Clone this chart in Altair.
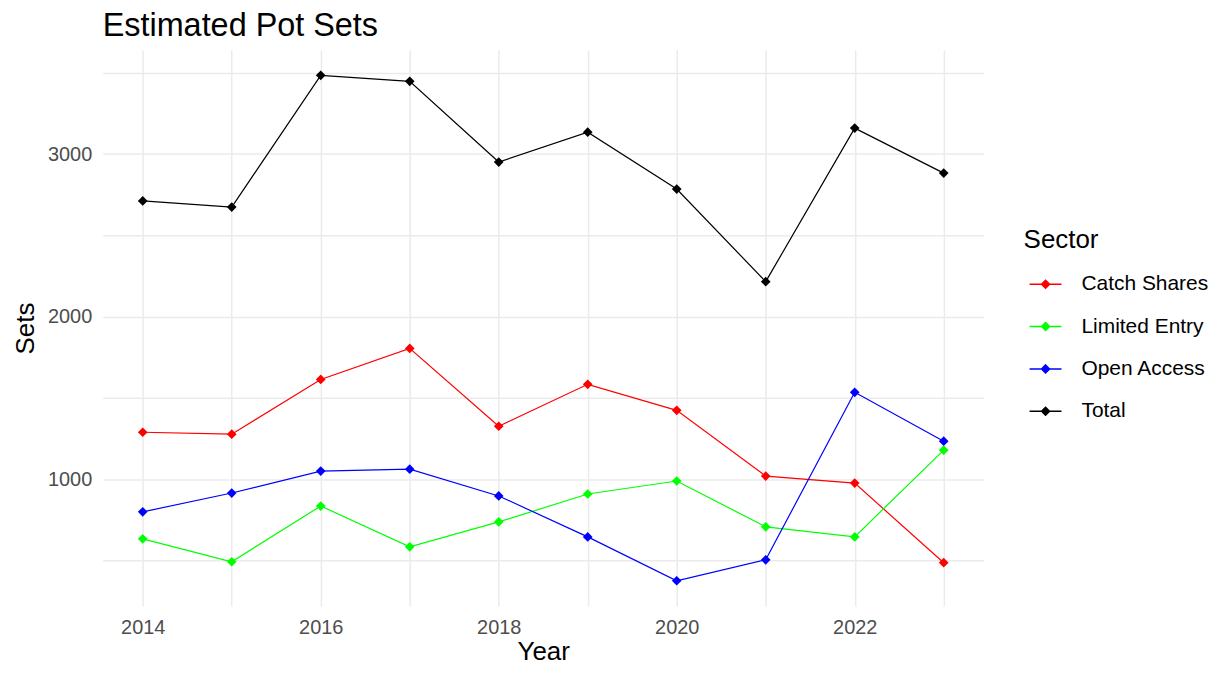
import altair as alt
import pandas as pd

years = [2014, 2015, 2016, 2017, 2018, 2019, 2020, 2021, 2022, 2023]
sectors = ["Catch Shares", "Limited Entry", "Open Access", "Total"]
catch_shares = [1288, 1276, 1613, 1804, 1325, 1583, 1423, 1018, 975, 485]
limited_entry = [632, 491, 834, 583, 736, 908, 988, 706, 644, 1178]
open_access = [798, 914, 1049, 1061, 896, 644, 374, 503, 1534, 1233]
total = [2712, 2674, 3485, 3448, 2951, 3135, 2785, 2215, 3160, 2883]
colors = ["#FF0000", "#00FF00", "#0000FF", "#000000"]

rows = []
for name, vals in zip(sectors, [catch_shares, limited_entry, open_access, total]):
    for y, v in zip(years, vals):
        rows.append({"Year": y, "Sets": v, "Sector": name})
df = pd.DataFrame(rows)

color = alt.Color(
    "Sector:N",
    scale=alt.Scale(domain=sectors, range=colors),
    legend=alt.Legend(
        title="Sector",
        symbolType="M-1,0H1M0,-0.25L0.25,0L0,0.25L-0.25,0Z",
        symbolSize=1024,
        symbolStrokeWidth=1.5,
        symbolOffset=5,
        orient="none",
        legendX=924,
        legendY=178,
    ),
)

x = alt.X(
    "Year:Q",
    scale=alt.Scale(domain=[2013.55, 2023.45], nice=False, zero=False),
    axis=alt.Axis(
        values=years,
        labelExpr="datum.value % 2 == 0 ? datum.label : ''",
        format="d",
        title="Year",
    ),
)
y = alt.Y(
    "Sets:Q",
    scale=alt.Scale(domain=[218, 3641], nice=False, zero=False),
    axis=alt.Axis(
        values=[500, 1000, 1500, 2000, 2500, 3000, 3500],
        labelExpr="datum.value % 1000 == 0 ? datum.value : ''",
        title="Sets",
    ),
)

lines = alt.Chart(df).mark_line(strokeWidth=1.2).encode(x=x, y=y, color=color)
points = alt.Chart(df).mark_point(shape="diamond", filled=True, size=95, opacity=1).encode(
    x=x, y=y, color=color
)

chart = (
    alt.layer(lines, points)
    .properties(
        width=884,
        height=558,
        padding={"left": 4, "top": 0, "right": 0, "bottom": 0},
        title=alt.TitleParams(
            "Estimated Pot Sets",
            anchor="start",
            frame="group",
            fontSize=32.5,
            font="Liberation Sans",
            fontWeight="normal",
            color="#000000",
            offset=8,
        ),
    )
    .configure_view(stroke=None)
    .configure_axis(
        grid=True,
        gridColor="#EBEBEB",
        gridWidth=1.5,
        domain=False,
        ticks=False,
        labelFont="Liberation Sans",
        labelFontSize=20,
        labelColor="#4D4D4D",
        titleFont="Liberation Sans",
        titleFontSize=26,
        titleFontWeight="normal",
        titleColor="#000000",
    )
    .configure_axisY(titlePadding=9, labelPadding=11)
    .configure_axisX(titlePadding=2, labelPadding=11)
    .configure_legend(
        titleFont="Liberation Sans",
        titleFontSize=26,
        titleFontWeight="normal",
        titleColor="#000000",
        labelFont="Liberation Sans",
        labelFontSize=21,
        labelColor="#000000",
        labelOffset=19,
        rowPadding=15.5,
        titlePadding=14,
        padding=0,
    )
)

chart.save("out.html", embed_options={"renderer": "svg", "actions": False})
